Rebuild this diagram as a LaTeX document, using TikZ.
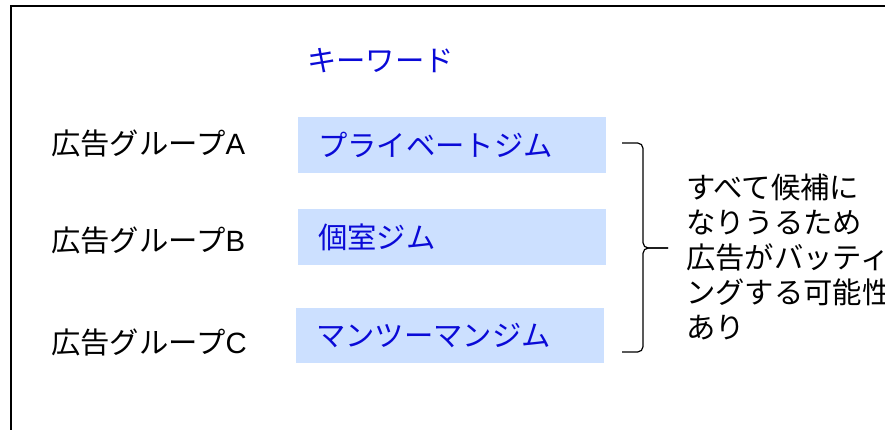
\documentclass[tikz,border=0pt]{standalone}
\usepackage{fontspec}
\setmainfont{Noto Sans CJK JP}
\newfontfamily\latinfont{Liberation Sans}

\definecolor{kwblue}{RGB}{10,10,215}
\definecolor{kwfill}{RGB}{204,224,255}

\tikzstyle{grouptext} = [anchor = west, inner sep = 0pt, font = \fontsize{22}{26.25}\selectfont]
\tikzstyle{keyword} = [grouptext, fill = kwfill, text = kwblue, minimum height = 42pt,
                       text width = 201pt, inner xsep = 15pt, align = left]
\tikzstyle{bracket} = [line width = 0.9pt, rounded corners = 4pt]

\begin{document}
\begin{tikzpicture}[x = 0.75pt, y = -0.75pt]
      \clip (0, 0) rectangle (885, 429);
      % frame
      \draw[line width = 1.2pt] (11, 440) -- (11, 6) -- (895, 6);

      \node[grouptext, text = kwblue] (heading) at (307, 61) {キーワード};

      % groups
      \foreach \g/\y in {A/143, B/240, C/342}
      {
        \node[grouptext] (grp\g) at (51, \y) {広告グループ{\latinfont\g}};
      }

      % keywords
      \node[keyword] (kwA) at (298, 145) {プライベートジム};
      \node[keyword] (kwB) at (298, 237) {個室ジム};
      \node[keyword, minimum height = 41.25pt] (kwC) at (296, 335.5) {マンツーマンジム};

      % brace and note
      \coordinate (bracetop) at (622, 143);
      \coordinate (bracebot) at (622, 352);
      \coordinate (bracemid) at (643, 248);
      \coordinate (bracetip) at (668, 248);
      \draw[bracket] (bracetop) -| (bracemid) -- (bracetip);
      \draw[bracket] (bracebot) -| (bracemid) -- (bracetip);
      \node[grouptext, align = left] (note) at (686, 257)
        {すべて候補に\\なりうるため\\広告がバッティ\\ングする可能性\\あり};
    \end{tikzpicture}
\end{document}
